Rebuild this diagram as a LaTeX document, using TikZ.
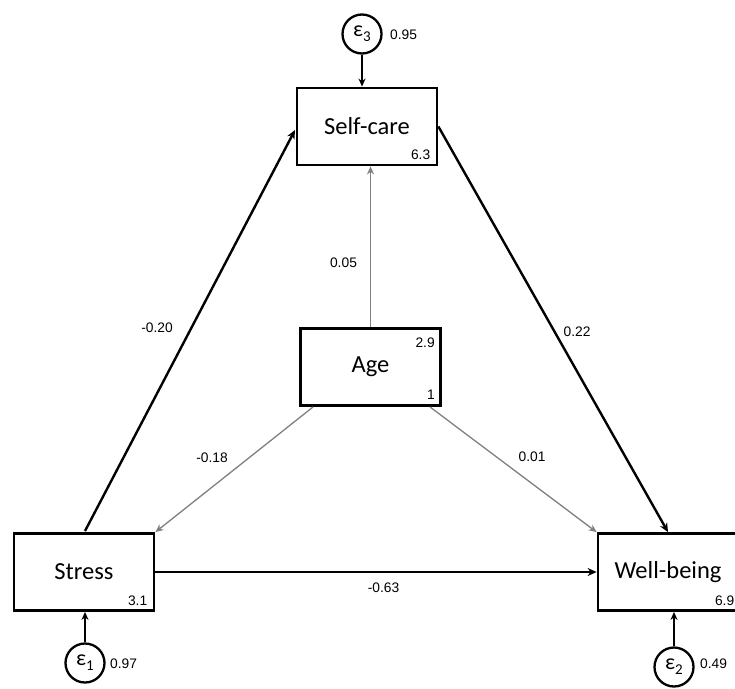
\documentclass[tikz,border=0pt]{standalone}
\usepackage{fontspec}
\setmainfont{Carlito}
\newfontfamily\numfont{Liberation Sans}
\usetikzlibrary{arrows.meta}
\begin{document}
\begin{tikzpicture}[x=1pt,y=-1pt,
 var/.style={draw,line width=2.8pt,minimum width=140pt,minimum height=77pt,inner sep=0pt,font=\fontsize{24.5}{28}\selectfont},
 err/.style={draw,circle,line width=2.3pt,minimum size=39pt,inner sep=0pt,font=\fontsize{22}{22}\selectfont},
 num/.style={font=\numfont\fontsize{13.8}{15}\selectfont,inner sep=0pt},
 bpath/.style={line width=2.4pt,-{Stealth[length=9pt,width=8pt]}},
 gpath/.style={line width=1.3pt,draw=black!50,-{Stealth[length=8pt,width=7pt,fill=black!60]}},
 epath/.style={line width=1.3pt,-{Stealth[length=8pt,width=7pt]}},
]
\useasboundingbox (0,0) rectangle (735,688);
\fill[white] (0,0) rectangle (735,688);
% variables
\node[var] (sc) at (367,126.5) {Self-care};
\node[var] (age) at (370.5,367) {Age};
\node[var] (st) at (84,572) {Stress};
\node[var] (wb) at (668,572) {Well-being};
% errors
\node[err] (e3) at (362,34) {ε\raisebox{-5pt}{\fontsize{15}{15}\selectfont 3}};
\node[err] (e1) at (85,663) {ε\raisebox{-5pt}{\fontsize{15}{15}\selectfont 1}};
\node[err] (e2) at (674,667) {ε\raisebox{-5pt}{\fontsize{15}{15}\selectfont 2}};
% intercepts / variances
\node[num,anchor=base east] at ([xshift=-8pt,yshift=7pt]sc.south east) {6.3};
\node[num,anchor=base east] at ([xshift=-7pt,yshift=-20pt]age.north east) {2.9};
\node[num,anchor=base east] at ([xshift=-7pt,yshift=7pt]age.south east) {1};
\node[num,anchor=base east] at ([xshift=-8pt,yshift=6pt]st.south east) {3.1};
\node[num,anchor=base east] at ([xshift=-5pt,yshift=6pt]wb.south east) {6.9};
\node[num,anchor=west] at (390,35) {0.95};
\node[num,anchor=west] at (110,664) {0.97};
\node[num,anchor=west] at (700,664) {0.49};
% paths
\coordinate (stn) at (85,531);
\coordinate (scw) at (295,130);
\draw[bpath] (stn) -- (scw);
\draw[bpath] (sc.east) -- (wb.north);
\draw[bpath] (st.east) -- (wb.west);
\draw[gpath] (age.north) -- (age.north |- sc.south);
\draw[gpath] ([xshift=14pt]age.south west) -- (st.north east);
\draw[gpath] ([xshift=-12pt]age.south east) -- (wb.north west);
\draw[epath] (e3.south) -- (e3.south |- sc.north);
\draw[epath] (e1.north) -- (e1.north |- st.south);
\draw[epath] (e2.north) -- (e2.north |- wb.south);
% coefficients
\node[num] at (157,328) {-0.20};
\node[num] at (343.5,263) {0.05};
\node[num] at (577,332) {0.22};
\node[num] at (212,458) {-0.18};
\node[num] at (532,457) {0.01};
\node[num] at (383.5,588) {-0.63};
\end{tikzpicture}
\end{document}
